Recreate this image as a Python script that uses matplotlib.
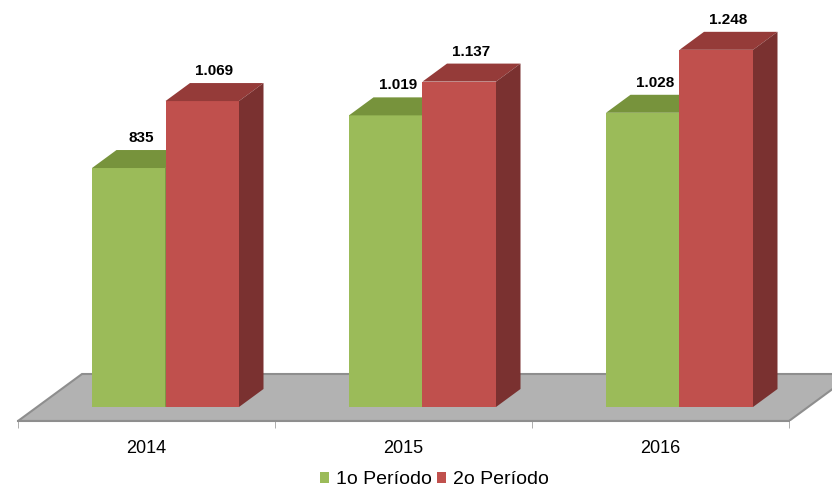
import matplotlib.pyplot as plt
from matplotlib.patches import Polygon, Patch

plt.rcParams['font.family'] = ['Liberation Sans', 'DejaVu Sans']

years = ['2014', '2015', '2016']
periodo1 = [835, 1019, 1028]
periodo2 = [1069, 1137, 1248]
series_names = ['1o Período', '2o Período']

front = ['#9BBB59', '#C0504D']
top = ['#77933C', '#953B39']
side = ['#5F7530', '#7A3130']

fmt = lambda v: f'{v:,}'.replace(',', '.')

fig = plt.figure(figsize=(8.32, 4.92), dpi=100)
ax = fig.add_axes([0, 71 / 492, 1, 421 / 492])
ax.set_xlim(-18 / 257, 814 / 257)
ax.set_ylim(-14 / 0.2862, 407 / 0.2862)

# depth of the fake 3d in data units
dx = 24.5 / 257
dy = 18 / 0.2862
fdx = 64 / 257
fdy = 47 / 0.2862
y0 = ax.get_ylim()[0]

# floor
floor = Polygon([(0, y0), (fdx, y0 + fdy), (3 + fdx, y0 + fdy), (3, y0)],
                closed=True, facecolor='#B2B2B2', edgecolor='#8E8E8E',
                linewidth=1.5, zorder=1)
ax.add_patch(floor)

bw = 73.5 / 257
for i, vals in enumerate([periodo1, periodo2]):
    lefts = [c + 74 / 257 + i * bw for c in range(len(years))]
    ax.bar(lefts, vals, width=bw, align='edge', color=front[i],
           linewidth=0, zorder=2 + i)
    for x0, v in zip(lefts, vals):
        x1 = x0 + bw
        ax.add_patch(Polygon([(x0, v), (x0 + dx, v + dy), (x1 + dx, v + dy), (x1, v)],
                             closed=True, facecolor=top[i], linewidth=0, zorder=2 + i))
        ax.add_patch(Polygon([(x1, 0), (x1 + dx, dy), (x1 + dx, v + dy), (x1, v)],
                             closed=True, facecolor=side[i], linewidth=0, zorder=2 + i))
        ax.annotate(fmt(v), (x0 + bw / 2 + dx / 2, v + dy), xytext=(0, 12),
                    textcoords='offset pixels', ha='center', va='center',
                    fontsize=11, fontweight='bold', zorder=5)

for s in ['top', 'left', 'right']:
    ax.spines[s].set_visible(False)
ax.spines['bottom'].set_bounds(0, 3)
ax.spines['bottom'].set_color('#8E8E8E')
ax.spines['bottom'].set_linewidth(1.5)
ax.set_yticks([])
ax.set_xticks([0.5, 1.5, 2.5])
ax.set_xticklabels(years, fontsize=13)
ax.tick_params(axis='x', which='major', length=0, pad=13.5)
ax.set_xticks([0, 1, 2, 3], minor=True)
ax.tick_params(axis='x', which='minor', length=5, color='#A0A0A0')

handles = [Patch(facecolor=front[0]), Patch(facecolor=front[1])]
fig.legend(handles, series_names, loc='center', bbox_to_anchor=(434.5 / 832, 1 - 480 / 492),
           ncol=2, frameon=False, fontsize=14, handlelength=0.45, handleheight=0.45,
           handletextpad=0.35, columnspacing=0.3)

fig.savefig('out.png', dpi=100)
